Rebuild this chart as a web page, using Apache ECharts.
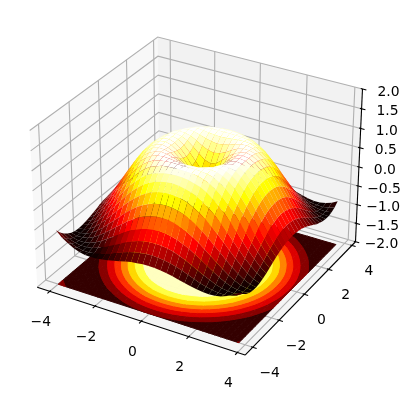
<!DOCTYPE html>
<html>
<head>
<meta charset="utf-8">
<style>html,body{margin:0;padding:0;background:#fff}#chart{width:410px;height:400px}</style>
<script src="https://cdn.jsdelivr.net/npm/echarts@6/dist/echarts.min.js"></script>
</head>
<body>
<div id="chart"></div>
<script>
// Sample positions along each horizontal axis
const xValues = [-4,-3.75,-3.5,-3.25,-3,-2.75,-2.5,-2.25,-2,-1.75,-1.5,-1.25,-1,-0.75,-0.5,-0.25,0,0.25,0.5,0.75,1,1.25,1.5,1.75,2,2.25,2.5,2.75,3,3.25,3.5,3.75];
const yValues = [-4,-3.75,-3.5,-3.25,-3,-2.75,-2.5,-2.25,-2,-1.75,-1.5,-1.25,-1,-0.75,-0.5,-0.25,0,0.25,0.5,0.75,1,1.25,1.5,1.75,2,2.25,2.5,2.75,3,3.25,3.5,3.75];
// Surface heights for |y| = 0, .25, ... 4 ; each row runs over |x| = 0, .25, ... 4
const zRow0  = [0,.25,.48,.68,.84,.95,1,.98,.91,.78,.60,.38,.14,-.11,-.35,-.57,-.76];
const zRow1  = [.25,.35,.53,.71,.86,.96,1,.98,.90,.77,.59,.37,.13,-.12,-.36,-.58,-.76];
const zRow2  = [.48,.53,.65,.78,.90,.97,1,.97,.88,.74,.56,.34,.10,-.15,-.38,-.60,-.78];
const zRow3  = [.68,.71,.78,.87,.95,.99,.99,.95,.84,.70,.51,.29,.05,-.19,-.42,-.63,-.80];
const zRow4  = [.84,.86,.90,.95,.99,1,.97,.90,.79,.63,.43,.21,-.02,-.26,-.48,-.67,-.83];
const zRow5  = [.95,.96,.97,.99,1,.98,.93,.84,.71,.54,.34,.12,-.11,-.33,-.54,-.72,-.87];
const zRow6  = [1,1,1,.99,.97,.93,.85,.74,.60,.42,.22,.01,-.21,-.42,-.62,-.78,-.91];
const zRow7  = [.98,.98,.97,.95,.90,.84,.74,.62,.46,.29,.09,-.12,-.33,-.52,-.70,-.84,-.94];
const zRow8  = [.91,.90,.88,.84,.79,.71,.60,.46,.31,.13,-.06,-.26,-.45,-.62,-.78,-.90,-.97];
const zRow9  = [.78,.77,.74,.70,.63,.54,.42,.29,.13,-.04,-.22,-.40,-.57,-.72,-.85,-.94,-.99];
const zRow10 = [.60,.59,.56,.51,.43,.34,.22,.09,-.06,-.22,-.38,-.54,-.69,-.82,-.92,-.98,-1];
const zRow11 = [.38,.37,.34,.29,.21,.12,.01,-.12,-.26,-.40,-.54,-.68,-.80,-.90,-.97,-1,-.99];
const zRow12 = [.14,.13,.10,.05,-.02,-.11,-.21,-.33,-.45,-.57,-.69,-.80,-.89,-.96,-.99,-1,-.96];
const zRow13 = [-.11,-.12,-.15,-.19,-.26,-.33,-.42,-.52,-.62,-.72,-.82,-.90,-.96,-.99,-1,-.97,-.90];
const zRow14 = [-.35,-.36,-.38,-.42,-.48,-.54,-.62,-.70,-.78,-.85,-.92,-.97,-.99,-1,-.97,-.92,-.82];
const zRow15 = [-.57,-.58,-.60,-.63,-.67,-.72,-.78,-.84,-.90,-.94,-.98,-1,-1,-.97,-.92,-.83,-.72];
const zRow16 = [-.76,-.76,-.78,-.80,-.83,-.87,-.91,-.94,-.97,-.99,-1,-.99,-.96,-.90,-.82,-.72,-.58];
// Filled contour levels and tick labels
const contourLevels = [-1,-.75,-.5,-.25,0,.25,.5,.75,1];
const xTicks = [-4,-2,0,2,4];
const yTicks = [-4,-2,0,2,4];
const zTicks = [-2,-1.5,-1,-0.5,0,0.5,1,1.5,2];

const mirrorRow = r => [...r.slice().reverse(), ...r.slice(1,16)];
const zGrid = [zRow16,zRow15,zRow14,zRow13,zRow12,zRow11,zRow10,zRow9,zRow8,zRow7,zRow6,zRow5,zRow4,zRow3,zRow2,zRow1,zRow0,
               zRow1,zRow2,zRow3,zRow4,zRow5,zRow6,zRow7,zRow8,zRow9,zRow10,zRow11,zRow12,zRow13,zRow14,zRow15].map(mirrorRow);

// 3D view box limits and camera (elev 30, azim -60, distance 10)
const XLO=-4.565, XHI=4.315, YLO=-4.565, YHI=4.315, ZLO=-2, ZHI=2;
const BOX=[1.1905,1.1905,0.8929];
const U=[.8660254,.5,0], V=[-.25,.4330127,.8660254], W=[.4330127,-.75,.5];
function project(x,y,z){
  const a=((x-XLO)/(XHI-XLO)-.5)*BOX[0], b=((y-YLO)/(YHI-YLO)-.5)*BOX[1], c=((z-ZLO)/(ZHI-ZLO)-.5)*BOX[2];
  const d=10-(a*W[0]+b*W[1]+c*W[2]);
  return [(a*U[0]+b*U[1]+c*U[2])/d,(a*V[0]+b*V[1]+c*V[2])/d,d];
}
// matplotlib "hot" colour map
const hotR=[[0,.0416],[.365079,1],[1,1]], hotG=[[0,0],[.365079,0],[.746032,1],[1,1]], hotB=[[0,0],[.746032,0],[1,1]];
function ramp(s,t){for(let i=1;i<s.length;i++){if(t<=s[i][0]){return s[i-1][1]+(s[i][1]-s[i-1][1])*(t-s[i-1][0])/(s[i][0]-s[i-1][0]);}}return s[s.length-1][1];}
function hot(t){t=Math.max(0,Math.min(1,t));return 'rgb('+[hotR,hotG,hotB].map(s=>Math.round(ramp(s,t)*255)).join(',')+')';}

// Surface cells
const cells=[];
for(let j=0;j<yValues.length-1;j++){for(let i=0;i<xValues.length-1;i++){
  const pts=[[xValues[i],yValues[j],zGrid[j][i]],[xValues[i+1],yValues[j],zGrid[j][i+1]],[xValues[i+1],yValues[j+1],zGrid[j+1][i+1]],[xValues[i],yValues[j+1],zGrid[j+1][i]]];
  const avg=pts.reduce((s,p)=>s+p[2],0)/4;
  const proj=pts.map(p=>project(p[0],p[1],p[2]));
  const depth=proj.reduce((s,p)=>s+p[2],0)/4;
  cells.push({proj,avg,depth});
}}
const avgMin=Math.min(...cells.map(c=>c.avg)), avgMax=Math.max(...cells.map(c=>c.avg));
cells.forEach(c=>{c.color=hot((c.avg-avgMin)/(avgMax-avgMin));});
cells.sort((a,b)=>b.depth-a.depth);

// Filled contours on the floor: each grid cell clipped to each band
function clip(poly,level,keepAbove){
  const out=[];
  for(let k=0;k<poly.length;k++){
    const p=poly[k],q=poly[(k+1)%poly.length];
    const pin=keepAbove?p[2]>=level:p[2]<=level, qin=keepAbove?q[2]>=level:q[2]<=level;
    if(pin)out.push(p);
    if(pin!==qin){const t=(level-p[2])/(q[2]-p[2]);out.push([p[0]+t*(q[0]-p[0]),p[1]+t*(q[1]-p[1]),level]);}
  }
  return out;
}
const contourPolys=[];
for(let b=0;b<contourLevels.length-1;b++){
  const lo=contourLevels[b],hi=contourLevels[b+1],color=hot(((lo+hi)/2+1)/2);
  for(let j=0;j<yValues.length-1;j++){for(let i=0;i<xValues.length-1;i++){
    let poly=[[xValues[i],yValues[j],zGrid[j][i]],[xValues[i+1],yValues[j],zGrid[j][i+1]],[xValues[i+1],yValues[j+1],zGrid[j+1][i+1]],[xValues[i],yValues[j+1],zGrid[j+1][i]]];
    poly=clip(poly,lo,true); if(poly.length)poly=clip(poly,hi,false);
    if(poly.length>2)contourPolys.push({proj:poly.map(p=>project(p[0],p[1],ZLO)),color});
  }}
}

// Panes, grid lines, axis lines, ticks
const P=project;
const panes=[
 {proj:[P(XLO,YLO,ZLO),P(XLO,YHI,ZLO),P(XLO,YHI,ZHI),P(XLO,YLO,ZHI)],color:'rgba(242,242,242,.5)'},
 {proj:[P(XLO,YHI,ZLO),P(XHI,YHI,ZLO),P(XHI,YHI,ZHI),P(XLO,YHI,ZHI)],color:'rgba(230,230,230,.5)'},
 {proj:[P(XLO,YLO,ZLO),P(XHI,YLO,ZLO),P(XHI,YHI,ZLO),P(XLO,YHI,ZLO)],color:'rgba(236,236,236,.5)'}
];
const GRID_COLOR='#b0b0b0', AXIS_COLOR='#000000';
const OUT=0.16, IN=0.07, ZOUT=0.16, ZIN=0.07;
const lines=[];
xTicks.forEach(x=>lines.push({pts:[P(x,YLO,ZLO),P(x,YHI,ZLO),P(x,YHI,ZHI)],color:GRID_COLOR}));
yTicks.forEach(y=>lines.push({pts:[P(XHI,y,ZLO),P(XLO,y,ZLO),P(XLO,y,ZHI)],color:GRID_COLOR}));
zTicks.forEach(z=>lines.push({pts:[P(XLO,YLO,z),P(XLO,YHI,z),P(XHI,YHI,z)],color:GRID_COLOR}));
lines.push({pts:[P(XLO,YLO,ZLO),P(XHI,YLO,ZLO)],color:AXIS_COLOR});
lines.push({pts:[P(XHI,YLO,ZLO),P(XHI,YHI,ZLO)],color:AXIS_COLOR});
lines.push({pts:[P(XHI,YHI,ZLO),P(XHI,YHI,ZHI)],color:AXIS_COLOR});
xTicks.forEach(x=>lines.push({pts:[P(x,YLO-OUT,ZLO),P(x,YLO+IN,ZLO)],color:AXIS_COLOR}));
yTicks.forEach(y=>lines.push({pts:[P(XHI+OUT,y,ZLO),P(XHI-IN,y,ZLO)],color:AXIS_COLOR}));
zTicks.forEach(z=>lines.push({pts:[P(XHI+ZOUT,YHI,z),P(XHI-ZIN,YHI,z)],color:AXIS_COLOR}));

// Tick labels
const minus=v=>String(v).replace('-','\u2212');
const labels=[];
xTicks.forEach(x=>labels.push({at:P(x,YLO,ZLO),text:minus(x),dx:-9,dy:31}));
yTicks.forEach(y=>labels.push({at:P(XHI,y,ZLO),text:minus(y),dx:17,dy:26}));
zTicks.forEach(z=>labels.push({at:P(XHI,YHI,z),text:minus(z.toFixed(1)),dx:26,dy:3}));

function polySeries(list,z,strokeWidth){
  return {type:'custom',coordinateSystem:'cartesian2d',z,clip:false,silent:true,animation:false,
    data:list.map((_,i)=>[i]),encode:{x:0,y:0},
    renderItem:(params,api)=>{const it=list[api.value(0)];
      return {type:'polygon',shape:{points:it.proj.map(p=>api.coord([p[0],p[1]]))},
        style:{fill:it.color,stroke:strokeWidth?it.color:null,lineWidth:strokeWidth||0}};}};
}
const lineSeries={type:'custom',coordinateSystem:'cartesian2d',z:2,clip:false,silent:true,animation:false,
  data:lines.map((_,i)=>[i]),encode:{x:0,y:0},
  renderItem:(params,api)=>{const it=lines[api.value(0)];
    return {type:'polyline',shape:{points:it.pts.map(p=>api.coord([p[0],p[1]]))},
      style:{fill:null,stroke:it.color,lineWidth:1.1}};}};
const labelSeries={type:'custom',coordinateSystem:'cartesian2d',z:6,clip:false,silent:true,animation:false,
  data:labels.map((_,i)=>[i]),encode:{x:0,y:0},
  renderItem:(params,api)=>{const it=labels[api.value(0)],c=api.coord([it.at[0],it.at[1]]);
    return {type:'text',x:c[0]+it.dx,y:c[1]+it.dy,
      style:{text:it.text,fill:'#000',font:'13.9px "DejaVu Sans"',align:'center',verticalAlign:'middle'}};}};

const chart=echarts.init(document.getElementById('chart'),null,{renderer:'canvas'});
chart.setOption({
  animation:false,
  backgroundColor:'#fff',
  grid:{left:0,right:0,top:0,bottom:0,containLabel:false},
  xAxis:{type:'value',min:-.09965,max:.10535,show:false},
  yAxis:{type:'value',min:-.1058,max:.0942,show:false},
  series:[polySeries(panes,1,0),lineSeries,polySeries(contourPolys,3,1),polySeries(cells,4,0),labelSeries]
});
</script>
</body>
</html>
